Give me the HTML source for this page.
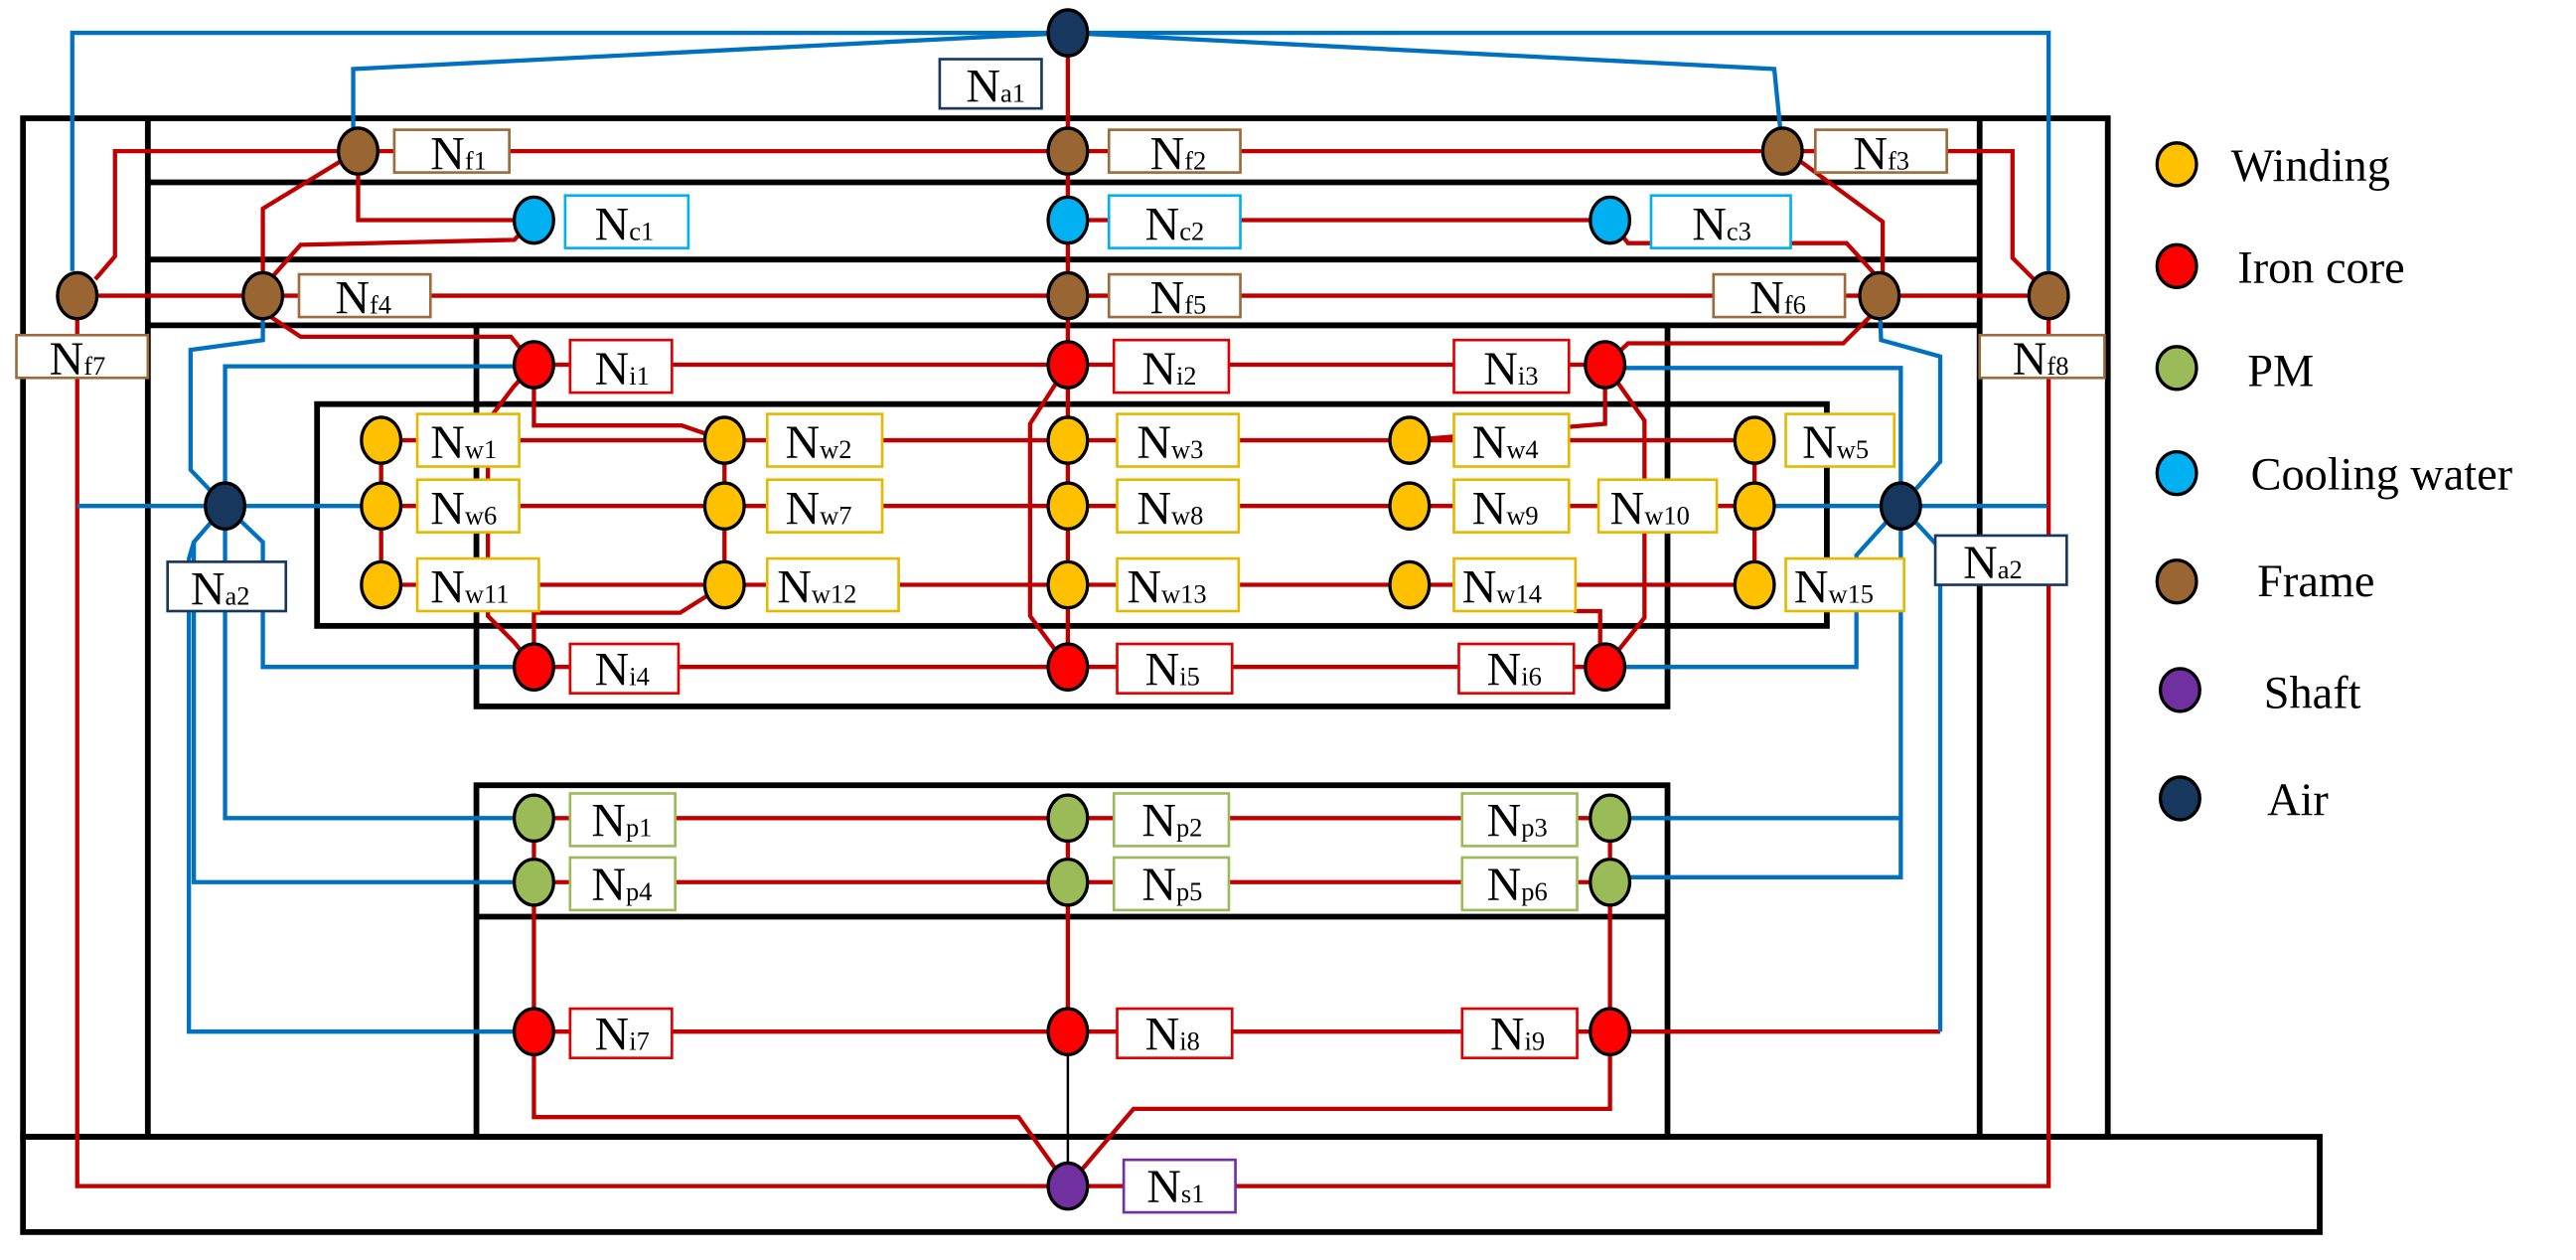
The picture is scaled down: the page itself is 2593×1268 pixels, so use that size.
<!DOCTYPE html>
<html><head><meta charset="utf-8"><style>
html,body{margin:0;padding:0;background:#fff;}
svg{display:block}
</style></head><body>
<svg width="2593" height="1268" viewBox="0 0 1568 767" preserveAspectRatio="none" xmlns="http://www.w3.org/2000/svg" font-family="'Liberation Serif','DejaVu Serif',serif">
<g fill="none" stroke="#000" stroke-width="3.5">
<rect x="14" y="72" width="1269" height="620"/>
<line x1="90" y1="72" x2="90" y2="692"/>
<line x1="1205" y1="72" x2="1205" y2="692"/>
<line x1="90" y1="111" x2="1205" y2="111"/>
<line x1="90" y1="158" x2="1205" y2="158"/>
<line x1="90" y1="198" x2="1205" y2="198"/>
<rect x="290" y="198" width="725" height="232"/>
<rect x="193" y="246" width="919" height="135"/>
<rect x="290" y="478" width="725" height="214"/>
<line x1="290" y1="558" x2="1015" y2="558"/>
<rect x="14" y="692" width="1398" height="58"/>
</g>
<g fill="none" stroke="#c00000" stroke-width="2.6">
<polyline points="218,92 1085,92"/>
<polyline points="218,92 70,92 70,156 58,170"/>
<polyline points="1085,92 1225,92 1225,157 1240,172"/>
<polyline points="47,180 1247,180"/>
<polyline points="218,92 218,134 325,134"/>
<polyline points="650,134 980,134"/>
<polyline points="218,92 206,99 160,127 160,180"/>
<polyline points="325,134 313,146 183,149 160,175"/>
<polyline points="1085,92 1097,99 1146,135 1146,180"/>
<polyline points="980,134 991,148 1124,148 1144,170"/>
<polyline points="650,20 650,406"/>
<polyline points="160,180 165,193 183,205 311,205 325,222"/>
<polyline points="1144,180 1138,193 1122,209 991,209 977,222"/>
<polyline points="325,222 977,222"/>
<polyline points="325,222 313,235 297,256 297,375 313,391 325,406"/>
<polyline points="325,222 325,259 415,259 441,268"/>
<polyline points="977,222 977,258 858,268"/>
<polyline points="977,222 1001,256 1001,376 977,406"/>
<polyline points="650,222 627,258 627,375 650,406"/>
<polyline points="232,268 1068,268"/>
<polyline points="232,308 1068,308"/>
<polyline points="232,356 1068,356"/>
<polyline points="232,268 232,356"/>
<polyline points="441,268 441,356"/>
<polyline points="1068,268 1068,356"/>
<polyline points="441,356 414,373 325,373 325,406"/>
<polyline points="958,372 974,372 974,406"/>
<polyline points="325,406 977,406"/>
<polyline points="325,498 980,498"/>
<polyline points="325,537 980,537"/>
<polyline points="325,498 325,628"/>
<polyline points="650,498 650,628"/>
<polyline points="980,498 980,628"/>
<polyline points="325,628 980,628"/>
<polyline points="980,628 1181,628"/>
<polyline points="325,628 325,680 620,680 650,722"/>
<polyline points="980,628 980,675 690,675 650,722"/>
<polyline points="650,722 47,722 47,180"/>
<polyline points="650,722 1247,722 1247,180"/>
</g>
<line x1="650" y1="628" x2="650" y2="722" stroke="#000" stroke-width="1.5"/>
<g fill="none" stroke="#0070c0" stroke-width="2.6">
<polyline points="650,20 44,20 44,165"/>
<polyline points="650,20 1247,20 1247,165"/>
<polyline points="650,20 215,42 215,92"/>
<polyline points="650,20 1080,42 1085,92"/>
<polyline points="160,180 160,207 116,213 116,286 137,308"/>
<polyline points="1144,180 1145,207 1181,217 1181,281 1157,308"/>
<polyline points="47,308 232,308"/>
<polyline points="137,308 137,223 325,223"/>
<polyline points="137,308 160,330 160,406 325,406"/>
<polyline points="137,308 137,498 325,498"/>
<polyline points="137,308 118,330 118,537 325,537"/>
<polyline points="118,330 115,340 115,628 325,628"/>
<polyline points="1068,308 1246,308"/>
<polyline points="1157,308 1157,224 977,224"/>
<polyline points="1157,308 1130,338 1130,406 977,406"/>
<polyline points="1157,308 1157,534 980,534"/>
<polyline points="1157,498 980,498"/>
<polyline points="1157,308 1181,334 1181,628"/>
</g>
<g fill="#fff" stroke-width="1.6">
<g stroke="#17375e"><rect x="572" y="36" width="62" height="30"/><rect x="102" y="342" width="72" height="30"/><rect x="1178" y="326" width="80" height="30"/></g>
<g stroke="#9c6b3c"><rect x="240" y="79" width="70" height="26"/><rect x="675" y="79" width="80" height="26"/><rect x="1105" y="79" width="80" height="26"/><rect x="182" y="167" width="80" height="26"/><rect x="675" y="167" width="80" height="26"/><rect x="1043" y="167" width="80" height="26"/><rect x="10" y="204" width="80" height="26"/><rect x="1205" y="204" width="76" height="26"/></g>
<g stroke="#00b0f0"><rect x="344" y="119" width="75" height="32"/><rect x="675" y="119" width="80" height="32"/><rect x="1005" y="119" width="85" height="32"/></g>
<g stroke="#e00000"><rect x="347" y="207" width="62" height="32"/><rect x="678" y="207" width="70" height="32"/><rect x="885" y="207" width="70" height="32"/><rect x="347" y="392" width="66" height="30"/><rect x="680" y="392" width="70" height="30"/><rect x="888" y="392" width="70" height="30"/><rect x="347" y="614" width="62" height="30"/><rect x="680" y="614" width="70" height="30"/><rect x="890" y="614" width="70" height="30"/></g>
<g stroke="#e6b800"><rect x="254" y="252" width="62" height="32"/><rect x="467" y="252" width="70" height="32"/><rect x="680" y="252" width="74" height="32"/><rect x="885" y="252" width="70" height="32"/><rect x="1087" y="252" width="66" height="32"/><rect x="254" y="292" width="62" height="32"/><rect x="467" y="292" width="70" height="32"/><rect x="680" y="292" width="74" height="32"/><rect x="885" y="292" width="70" height="32"/><rect x="973" y="292" width="72" height="32"/><rect x="254" y="340" width="74" height="32"/><rect x="467" y="340" width="80" height="32"/><rect x="680" y="340" width="74" height="32"/><rect x="885" y="340" width="74" height="32"/><rect x="1087" y="340" width="72" height="32"/></g>
<g stroke="#9bbb59"><rect x="347" y="483" width="64" height="32"/><rect x="678" y="483" width="70" height="32"/><rect x="890" y="483" width="70" height="32"/><rect x="347" y="522" width="64" height="32"/><rect x="678" y="522" width="70" height="32"/><rect x="890" y="522" width="70" height="32"/></g>
<g stroke="#7030a0"><rect x="684" y="706" width="68" height="32"/></g>
</g>
<g font-size="29" fill="#000">
<text x="588" y="62">N<tspan font-size="16">a1</tspan></text>
<text x="116" y="368">N<tspan font-size="16">a2</tspan></text>
<text x="1195" y="352">N<tspan font-size="16">a2</tspan></text>
<text x="262" y="103">N<tspan font-size="16">f1</tspan></text>
<text x="700" y="103">N<tspan font-size="16">f2</tspan></text>
<text x="1128" y="103">N<tspan font-size="16">f3</tspan></text>
<text x="204" y="191">N<tspan font-size="16">f4</tspan></text>
<text x="700" y="191">N<tspan font-size="16">f5</tspan></text>
<text x="1065" y="191">N<tspan font-size="16">f6</tspan></text>
<text x="30" y="228">N<tspan font-size="16">f7</tspan></text>
<text x="1225" y="228">N<tspan font-size="16">f8</tspan></text>
<text x="362" y="146">N<tspan font-size="16">c1</tspan></text>
<text x="697" y="146">N<tspan font-size="16">c2</tspan></text>
<text x="1030" y="146">N<tspan font-size="16">c3</tspan></text>
<text x="362" y="234">N<tspan font-size="16">i1</tspan></text>
<text x="695" y="234">N<tspan font-size="16">i2</tspan></text>
<text x="903" y="234">N<tspan font-size="16">i3</tspan></text>
<text x="362" y="417">N<tspan font-size="16">i4</tspan></text>
<text x="697" y="417">N<tspan font-size="16">i5</tspan></text>
<text x="905" y="417">N<tspan font-size="16">i6</tspan></text>
<text x="362" y="639">N<tspan font-size="16">i7</tspan></text>
<text x="697" y="639">N<tspan font-size="16">i8</tspan></text>
<text x="907" y="639">N<tspan font-size="16">i9</tspan></text>
<text x="262" y="279">N<tspan font-size="16">w1</tspan></text>
<text x="478" y="279">N<tspan font-size="16">w2</tspan></text>
<text x="692" y="279">N<tspan font-size="16">w3</tspan></text>
<text x="896" y="279">N<tspan font-size="16">w4</tspan></text>
<text x="1097" y="279">N<tspan font-size="16">w5</tspan></text>
<text x="262" y="319">N<tspan font-size="16">w6</tspan></text>
<text x="478" y="319">N<tspan font-size="16">w7</tspan></text>
<text x="692" y="319">N<tspan font-size="16">w8</tspan></text>
<text x="896" y="319">N<tspan font-size="16">w9</tspan></text>
<text x="980" y="319">N<tspan font-size="16">w10</tspan></text>
<text x="262" y="367">N<tspan font-size="16">w11</tspan></text>
<text x="473" y="367">N<tspan font-size="16">w12</tspan></text>
<text x="686" y="367">N<tspan font-size="16">w13</tspan></text>
<text x="890" y="367">N<tspan font-size="16">w14</tspan></text>
<text x="1092" y="367">N<tspan font-size="16">w15</tspan></text>
<text x="360" y="509">N<tspan font-size="16">p1</tspan></text>
<text x="695" y="509">N<tspan font-size="16">p2</tspan></text>
<text x="905" y="509">N<tspan font-size="16">p3</tspan></text>
<text x="360" y="548">N<tspan font-size="16">p4</tspan></text>
<text x="695" y="548">N<tspan font-size="16">p5</tspan></text>
<text x="905" y="548">N<tspan font-size="16">p6</tspan></text>
<text x="698" y="732">N<tspan font-size="16">s1</tspan></text>
</g>
<g stroke="#000" stroke-width="2">
<g fill="#17375e"><ellipse cx="650" cy="20" rx="12" ry="14"/><ellipse cx="137" cy="308" rx="12" ry="14"/><ellipse cx="1157" cy="308" rx="12" ry="14"/></g>
<g fill="#996633"><ellipse cx="218" cy="92" rx="12" ry="14"/><ellipse cx="650" cy="92" rx="12" ry="14"/><ellipse cx="1085" cy="92" rx="12" ry="14"/><ellipse cx="160" cy="180" rx="12" ry="14"/><ellipse cx="650" cy="180" rx="12" ry="14"/><ellipse cx="1144" cy="180" rx="12" ry="14"/><ellipse cx="47" cy="180" rx="12" ry="14"/><ellipse cx="1247" cy="180" rx="12" ry="14"/></g>
<g fill="#00b0f0"><ellipse cx="325" cy="134" rx="12" ry="14"/><ellipse cx="650" cy="134" rx="12" ry="14"/><ellipse cx="980" cy="134" rx="12" ry="14"/></g>
<g fill="#ff0000"><ellipse cx="325" cy="222" rx="12" ry="14"/><ellipse cx="650" cy="222" rx="12" ry="14"/><ellipse cx="977" cy="222" rx="12" ry="14"/><ellipse cx="325" cy="406" rx="12" ry="14"/><ellipse cx="650" cy="406" rx="12" ry="14"/><ellipse cx="977" cy="406" rx="12" ry="14"/><ellipse cx="325" cy="628" rx="12" ry="14"/><ellipse cx="650" cy="628" rx="12" ry="14"/><ellipse cx="980" cy="628" rx="12" ry="14"/></g>
<g fill="#ffc000"><ellipse cx="232" cy="268" rx="12" ry="14"/><ellipse cx="441" cy="268" rx="12" ry="14"/><ellipse cx="650" cy="268" rx="12" ry="14"/><ellipse cx="858" cy="268" rx="12" ry="14"/><ellipse cx="1068" cy="268" rx="12" ry="14"/><ellipse cx="232" cy="308" rx="12" ry="14"/><ellipse cx="441" cy="308" rx="12" ry="14"/><ellipse cx="650" cy="308" rx="12" ry="14"/><ellipse cx="858" cy="308" rx="12" ry="14"/><ellipse cx="1068" cy="308" rx="12" ry="14"/><ellipse cx="232" cy="356" rx="12" ry="14"/><ellipse cx="441" cy="356" rx="12" ry="14"/><ellipse cx="650" cy="356" rx="12" ry="14"/><ellipse cx="858" cy="356" rx="12" ry="14"/><ellipse cx="1068" cy="356" rx="12" ry="14"/></g>
<g fill="#9bbb59"><ellipse cx="325" cy="498" rx="12" ry="14"/><ellipse cx="650" cy="498" rx="12" ry="14"/><ellipse cx="980" cy="498" rx="12" ry="14"/><ellipse cx="325" cy="537" rx="12" ry="14"/><ellipse cx="650" cy="537" rx="12" ry="14"/><ellipse cx="980" cy="537" rx="12" ry="14"/></g>
<g fill="#7030a0"><ellipse cx="650" cy="722" rx="12" ry="14"/></g>
<ellipse cx="1325" cy="100" rx="12" ry="13" fill="#ffc000"/>
<ellipse cx="1325" cy="162" rx="12" ry="13" fill="#ff0000"/>
<ellipse cx="1325" cy="224" rx="12" ry="13" fill="#9bbb59"/>
<ellipse cx="1325" cy="288" rx="12" ry="13" fill="#00b0f0"/>
<ellipse cx="1325" cy="354" rx="12" ry="13" fill="#996633"/>
<ellipse cx="1327" cy="420" rx="12" ry="13" fill="#7030a0"/>
<ellipse cx="1327" cy="486" rx="12" ry="13" fill="#17375e"/>
</g>
<g font-size="28" fill="#000">
<text x="1358" y="110">Winding</text>
<text x="1362" y="172">Iron core</text>
<text x="1368" y="235">PM</text>
<text x="1370" y="298">Cooling water</text>
<text x="1374" y="363">Frame</text>
<text x="1378" y="431">Shaft</text>
<text x="1380" y="496">Air</text>
</g>
</svg>
</body></html>
